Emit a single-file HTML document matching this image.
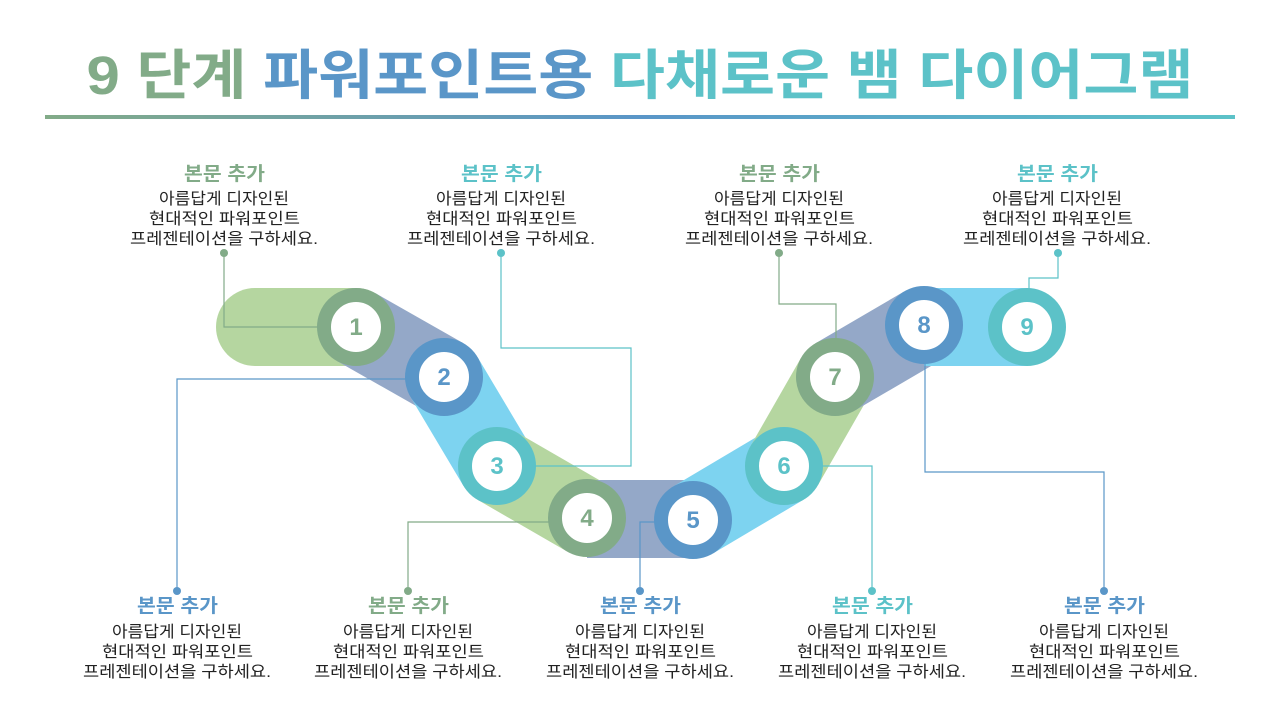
<!DOCTYPE html>
<html><head><meta charset="utf-8"><style>
html,body{margin:0;padding:0;background:#fff;}
svg{display:block;}
text{font-family:"Liberation Sans","Noto Sans CJK KR",sans-serif;}
</style></head><body>
<svg width="1280" height="720" viewBox="0 0 1280 720" xmlns="http://www.w3.org/2000/svg">
<defs>
<linearGradient id="g" x1="0" x2="1" y1="0" y2="0">
<stop offset="0" stop-color="#82ab88"/><stop offset="0.5" stop-color="#5a96c8"/><stop offset="1" stop-color="#5cc2c8"/>
</linearGradient>
<g id="body">
<text y="204" textLength="130" lengthAdjust="spacingAndGlyphs" x="-65" text-anchor="start">아름답게 디자인된</text>
<text y="224" textLength="151" lengthAdjust="spacingAndGlyphs" x="-75" text-anchor="start">현대적인 파워포인트</text>
<text y="244" textLength="188" lengthAdjust="spacingAndGlyphs" x="-94" text-anchor="start">프레젠테이션을 구하세요.</text>
</g>
</defs>
<text x="640" y="94" text-anchor="middle" font-size="54" font-weight="bold" textLength="1107" lengthAdjust="spacingAndGlyphs"><tspan fill="#82ab88">9 단계 </tspan><tspan fill="#5a96c8">파워포인트용 </tspan><tspan fill="#5cc2c8">다채로운 뱀 다이어그램</tspan></text>
<rect x="45" y="115" width="1190" height="4" fill="url(#g)"/>

<g stroke-width="78" fill="none">
<line x1="255" y1="327" x2="356" y2="327" stroke="#b5d6a0" stroke-linecap="round"/>
<line x1="356" y1="327" x2="444" y2="377" stroke="#94a8c8"/>
<line x1="444" y1="377" x2="497" y2="466" stroke="#7dd3f0"/>
<line x1="497" y1="466" x2="587" y2="518" stroke="#b5d6a0"/>
<line x1="587" y1="519" x2="693" y2="519" stroke="#94a8c8"/>
<line x1="693" y1="520" x2="784" y2="466" stroke="#7dd3f0"/>
<line x1="784" y1="466" x2="835" y2="377" stroke="#b5d6a0"/>
<line x1="835" y1="377" x2="924" y2="325" stroke="#94a8c8"/>
<line x1="924" y1="327" x2="1027" y2="327" stroke="#7dd3f0"/>
</g>

<g fill="none" stroke-width="1.2">
<polyline points="224,253 224,327 330,327" stroke="#82ab88"/>
<polyline points="420,379 177,379 177,591" stroke="#5a96c8"/>
<polyline points="501,253 501,348 631,348 631,466 520,466" stroke="#5cc2c8"/>
<polyline points="562,522 408,522 408,591" stroke="#82ab88"/>
<polyline points="670,522 640,522 640,591" stroke="#5a96c8"/>
<polyline points="806,466 872,466 872,591" stroke="#5cc2c8"/>
<polyline points="779,253 779,304 836,304 836,352" stroke="#82ab88"/>
<polyline points="925,350 925,472 1104,472 1104,591" stroke="#5a96c8"/>
<polyline points="1058,253 1058,278 1029,278 1029,300" stroke="#5cc2c8"/>
</g>
<g>
<circle cx="224" cy="253" r="4" fill="#82ab88"/>
<circle cx="177" cy="591" r="4" fill="#5a96c8"/>
<circle cx="501" cy="253" r="4" fill="#5cc2c8"/>
<circle cx="408" cy="591" r="4" fill="#82ab88"/>
<circle cx="640" cy="591" r="4" fill="#5a96c8"/>
<circle cx="872" cy="591" r="4" fill="#5cc2c8"/>
<circle cx="779" cy="253" r="4" fill="#82ab88"/>
<circle cx="1104" cy="591" r="4" fill="#5a96c8"/>
<circle cx="1058" cy="253" r="4" fill="#5cc2c8"/>
</g>

<g font-size="24" font-weight="bold" text-anchor="middle">
<circle cx="356" cy="327" r="32" fill="#fff" stroke="#82ab88" stroke-width="14"/><text x="356" y="335" fill="#82ab88">1</text>
<circle cx="444" cy="377" r="32" fill="#fff" stroke="#5a96c8" stroke-width="14"/><text x="444" y="385" fill="#5a96c8">2</text>
<circle cx="497" cy="466" r="32" fill="#fff" stroke="#5cc2c8" stroke-width="14"/><text x="497" y="474" fill="#5cc2c8">3</text>
<circle cx="587" cy="518" r="32" fill="#fff" stroke="#82ab88" stroke-width="14"/><text x="587" y="526" fill="#82ab88">4</text>
<circle cx="693" cy="520" r="32" fill="#fff" stroke="#5a96c8" stroke-width="14"/><text x="693" y="528" fill="#5a96c8">5</text>
<circle cx="784" cy="466" r="32" fill="#fff" stroke="#5cc2c8" stroke-width="14"/><text x="784" y="474" fill="#5cc2c8">6</text>
<circle cx="835" cy="377" r="32" fill="#fff" stroke="#82ab88" stroke-width="14"/><text x="835" y="385" fill="#82ab88">7</text>
<circle cx="924" cy="325" r="32" fill="#fff" stroke="#5a96c8" stroke-width="14"/><text x="924" y="333" fill="#5a96c8">8</text>
<circle cx="1027" cy="327" r="32" fill="#fff" stroke="#5cc2c8" stroke-width="14"/><text x="1027" y="335" fill="#5cc2c8">9</text>
</g>

<g font-size="16" fill="#222">
<g transform="translate(224,0)"><text x="-40" y="180" font-size="19" font-weight="bold" fill="#82ab88" textLength="81" lengthAdjust="spacingAndGlyphs">본문 추가</text><use href="#body"/></g>
<g transform="translate(501,0)"><text x="-40" y="180" font-size="19" font-weight="bold" fill="#5cc2c8" textLength="81" lengthAdjust="spacingAndGlyphs">본문 추가</text><use href="#body"/></g>
<g transform="translate(779,0)"><text x="-40" y="180" font-size="19" font-weight="bold" fill="#82ab88" textLength="81" lengthAdjust="spacingAndGlyphs">본문 추가</text><use href="#body"/></g>
<g transform="translate(1057,0)"><text x="-40" y="180" font-size="19" font-weight="bold" fill="#5cc2c8" textLength="81" lengthAdjust="spacingAndGlyphs">본문 추가</text><use href="#body"/></g>

<g transform="translate(177,433)"><text x="-40" y="179" font-size="19" font-weight="bold" fill="#5a96c8" textLength="81" lengthAdjust="spacingAndGlyphs">본문 추가</text><use href="#body"/></g>
<g transform="translate(408,433)"><text x="-40" y="179" font-size="19" font-weight="bold" fill="#82ab88" textLength="81" lengthAdjust="spacingAndGlyphs">본문 추가</text><use href="#body"/></g>
<g transform="translate(640,433)"><text x="-40" y="179" font-size="19" font-weight="bold" fill="#5a96c8" textLength="81" lengthAdjust="spacingAndGlyphs">본문 추가</text><use href="#body"/></g>
<g transform="translate(872,433)"><text x="-40" y="179" font-size="19" font-weight="bold" fill="#5cc2c8" textLength="81" lengthAdjust="spacingAndGlyphs">본문 추가</text><use href="#body"/></g>
<g transform="translate(1104,433)"><text x="-40" y="179" font-size="19" font-weight="bold" fill="#5a96c8" textLength="81" lengthAdjust="spacingAndGlyphs">본문 추가</text><use href="#body"/></g>
</g>
</svg>
</body></html>
